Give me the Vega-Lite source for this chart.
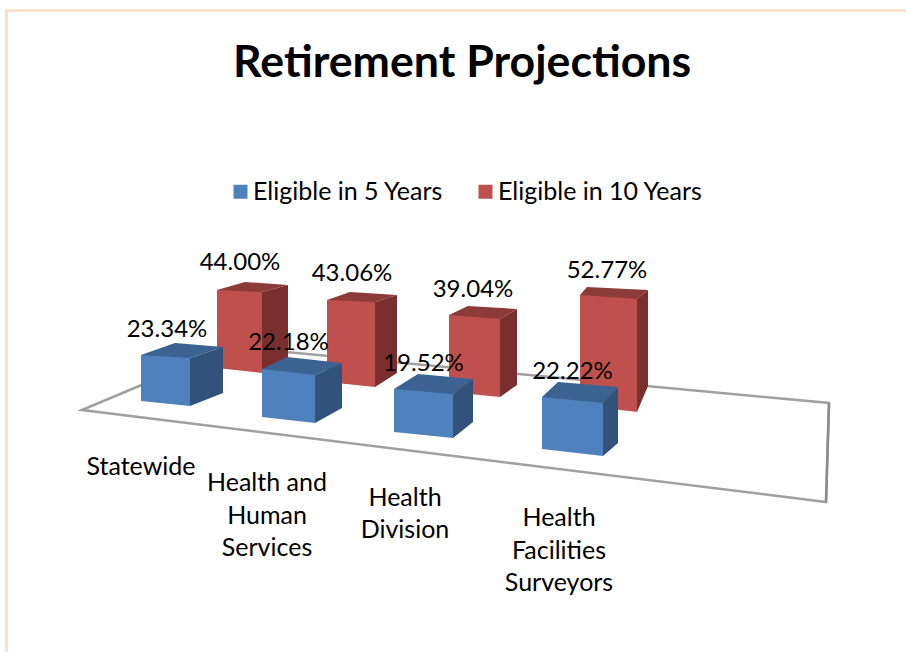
{"$schema":"https://vega.github.io/schema/vega-lite/v6.json","width":906,"height":652,"padding":0,"autosize":{"type":"none"},"background":"#ffffff","view":{"stroke":null},
"title":{"text":"Retirement Projections","font":"Lato","fontWeight":"bold","fontSize":44.7,"color":"#000000","anchor":"start","frame":"group","dx":233,"offset":-122,"baseline":"alphabetic"},
"data":{"values":[
{"category":"Statewide","series":"Eligible in 5 Years","value":0.2334},
{"category":"Statewide","series":"Eligible in 10 Years","value":0.44},
{"category":"Health and Human Services","series":"Eligible in 5 Years","value":0.2218},
{"category":"Health and Human Services","series":"Eligible in 10 Years","value":0.4306},
{"category":"Health Division","series":"Eligible in 5 Years","value":0.1952},
{"category":"Health Division","series":"Eligible in 10 Years","value":0.3904},
{"category":"Health Facilities Surveyors","series":"Eligible in 5 Years","value":0.2222},
{"category":"Health Facilities Surveyors","series":"Eligible in 10 Years","value":0.5277}]},
"resolve":{"scale":{"x":"independent","y":"independent"}},
"layer":[
{"data":{"values":[{"part":"frame and floor"}]},"encoding":{"x":{"datum":0,"type":"quantitative","axis":null,"scale":{"domain":[0,906],"range":[0,906]}},"y":{"datum":0,"type":"quantitative","axis":null,"scale":{"domain":[0,652],"range":[0,652]}}},"layer":[
{"mark":{"type":"point","filled":false,"opacity":1,"size":4,"stroke":"#fde0cc","strokeWidth":3,"shape":"M6.5,652L6.5,10.5L906,10.5"}},
{"mark":{"type":"point","filled":false,"opacity":1,"size":4,"stroke":"#a0a0a0","strokeWidth":2.5,"shape":"M82,410L232,347L829,403L826,502Z"}},
{"mark":{"type":"point","filled":false,"opacity":1,"size":4,"stroke":"#8a8a8a","strokeWidth":2.5,"shape":"M829,403L826,502"}}]},
{"transform":[{"filter":"datum.category==='Statewide'&&datum.series==='Eligible in 10 Years'"}],"encoding":{"x":{"field":"category","type":"nominal","axis":null,"scale":{"type":"band","domain":["Statewide"],"range":[217,262],"padding":0}},"y":{"field":"value","type":"quantitative","stack":null,"axis":null,"scale":{"domain":[0,1],"range":[368,190.7]}}},"layer":[
{"mark":{"type":"bar","color":"#7a2f2e","width":26,"xOffset":35.5,"yOffset":2,"y2Offset":-8},"encoding":{"y2":{"datum":0}}},
{"mark":{"type":"point","filled":true,"opacity":1,"size":4,"color":"#7a2f2e","xOffset":-22.5,"shape":"M45,2L71,-5L71,2Z"}},
{"mark":{"type":"point","filled":true,"opacity":1,"size":4,"color":"#7a2f2e","xOffset":-22.5,"yOffset":78,"shape":"M45,5L45,-8L71,-8Z"}},
{"mark":{"type":"bar"},"encoding":{"y2":{"datum":0},"color":{"field":"series","type":"nominal","scale":{"domain":["Eligible in 5 Years","Eligible in 10 Years"],"range":["#4f81bd","#c0504d"]},"legend":{"title":null,"orient":"none","legendX":228,"legendY":179,"direction":"horizontal","symbolType":"square","symbolSize":196,"labelFont":"Lato","labelFontSize":25,"labelColor":"#000000","labelLimit":400,"labelOffset":0,"columnPadding":29,"padding":0}}}},
{"mark":{"type":"point","filled":true,"opacity":1,"size":4,"color":"#c0504d","xOffset":-22.5,"yOffset":78,"shape":"M0,0L45,0L45,5Z"}},
{"mark":{"type":"point","filled":true,"opacity":1,"size":4,"color":"#8d3b39","xOffset":-22.5,"shape":"M0,0L45,2L71,-5L28,-8Z"}},
{"mark":{"type":"text","font":"Lato","fontSize":24,"color":"#000000","baseline":"middle","dx":0.5,"dy":-27},"encoding":{"text":{"field":"value","type":"quantitative","format":".2%"}}}]},
{"transform":[{"filter":"datum.category==='Health and Human Services'&&datum.series==='Eligible in 10 Years'"}],"encoding":{"x":{"field":"category","type":"nominal","axis":null,"scale":{"type":"band","domain":["Health and Human Services"],"range":[327,375],"padding":0}},"y":{"field":"value","type":"quantitative","stack":null,"axis":null,"scale":{"domain":[0,1],"range":[382,191.6]}}},"layer":[
{"mark":{"type":"bar","color":"#7a2f2e","width":22,"xOffset":35,"yOffset":2,"y2Offset":-9},"encoding":{"y2":{"datum":0}}},
{"mark":{"type":"point","filled":true,"opacity":1,"size":4,"color":"#7a2f2e","xOffset":-24,"shape":"M48,2L70,-5L70,2Z"}},
{"mark":{"type":"point","filled":true,"opacity":1,"size":4,"color":"#7a2f2e","xOffset":-24,"yOffset":82,"shape":"M48,5L48,-9L70,-9Z"}},
{"mark":{"type":"bar"},"encoding":{"y2":{"datum":0},"color":{"field":"series","type":"nominal"}}},
{"mark":{"type":"point","filled":true,"opacity":1,"size":4,"color":"#c0504d","xOffset":-24,"yOffset":82,"shape":"M0,0L48,0L48,5Z"}},
{"mark":{"type":"point","filled":true,"opacity":1,"size":4,"color":"#8d3b39","xOffset":-24,"shape":"M0,0L48,2L70,-5L23,-8Z"}},
{"mark":{"type":"text","font":"Lato","fontSize":24,"color":"#000000","baseline":"middle","dx":1,"dy":-26},"encoding":{"text":{"field":"value","type":"quantitative","format":".2%"}}}]},
{"transform":[{"filter":"datum.category==='Health Division'&&datum.series==='Eligible in 10 Years'"}],"encoding":{"x":{"field":"category","type":"nominal","axis":null,"scale":{"type":"band","domain":["Health Division"],"range":[449,500],"padding":0}},"y":{"field":"value","type":"quantitative","stack":null,"axis":null,"scale":{"domain":[0,1],"range":[392,194.8]}}},"layer":[
{"mark":{"type":"bar","color":"#7a2f2e","width":17,"xOffset":34,"yOffset":4,"y2Offset":-7},"encoding":{"y2":{"datum":0}}},
{"mark":{"type":"point","filled":true,"opacity":1,"size":4,"color":"#7a2f2e","xOffset":-25.5,"shape":"M51,4L68,-6L68,4Z"}},
{"mark":{"type":"point","filled":true,"opacity":1,"size":4,"color":"#7a2f2e","xOffset":-25.5,"yOffset":77,"shape":"M51,5L51,-7L68,-7Z"}},
{"mark":{"type":"bar"},"encoding":{"y2":{"datum":0},"color":{"field":"series","type":"nominal"}}},
{"mark":{"type":"point","filled":true,"opacity":1,"size":4,"color":"#c0504d","xOffset":-25.5,"yOffset":77,"shape":"M0,0L51,0L51,5Z"}},
{"mark":{"type":"point","filled":true,"opacity":1,"size":4,"color":"#8d3b39","xOffset":-25.5,"shape":"M0,0L51,4L68,-6L19,-9Z"}},
{"mark":{"type":"text","font":"Lato","fontSize":24,"color":"#000000","baseline":"middle","dx":-1.5,"dy":-25},"encoding":{"text":{"field":"value","type":"quantitative","format":".2%"}}}]},
{"transform":[{"filter":"datum.category==='Health Facilities Surveyors'&&datum.series==='Eligible in 10 Years'"}],"encoding":{"x":{"field":"category","type":"nominal","axis":null,"scale":{"type":"band","domain":["Health Facilities Surveyors"],"range":[580,637],"padding":0}},"y":{"field":"value","type":"quantitative","stack":null,"axis":null,"scale":{"domain":[0,1],"range":[405,196.5]}}},"layer":[
{"mark":{"type":"bar","color":"#7a2f2e","width":11,"xOffset":34,"yOffset":4,"y2Offset":-19},"encoding":{"y2":{"datum":0}}},
{"mark":{"type":"point","filled":true,"opacity":1,"size":4,"color":"#7a2f2e","xOffset":-28.5,"shape":"M57,4L68,-5L68,4Z"}},
{"mark":{"type":"point","filled":true,"opacity":1,"size":4,"color":"#7a2f2e","xOffset":-28.5,"yOffset":110,"shape":"M57,7L57,-19L68,-19Z"}},
{"mark":{"type":"bar"},"encoding":{"y2":{"datum":0},"color":{"field":"series","type":"nominal"}}},
{"mark":{"type":"point","filled":true,"opacity":1,"size":4,"color":"#c0504d","xOffset":-28.5,"yOffset":110,"shape":"M0,0L57,0L57,7Z"}},
{"mark":{"type":"point","filled":true,"opacity":1,"size":4,"color":"#8d3b39","xOffset":-28.5,"shape":"M0,0L57,4L68,-5L7,-8Z"}},
{"mark":{"type":"text","font":"Lato","fontSize":24,"color":"#000000","baseline":"middle","dx":-1.5,"dy":-24},"encoding":{"text":{"field":"value","type":"quantitative","format":".2%"}}}]},
{"transform":[{"filter":"datum.category==='Statewide'&&datum.series==='Eligible in 5 Years'"}],"encoding":{"x":{"field":"category","type":"nominal","axis":null,"scale":{"type":"band","domain":["Statewide"],"range":[141,190],"padding":0}},"y":{"field":"value","type":"quantitative","stack":null,"axis":null,"scale":{"domain":[0,1],"range":[401,203.9]}}},"layer":[
{"mark":{"type":"bar","color":"#31527a","width":33,"xOffset":41,"yOffset":3,"y2Offset":-8},"encoding":{"y2":{"datum":0}}},
{"mark":{"type":"point","filled":true,"opacity":1,"size":4,"color":"#31527a","xOffset":-24.5,"shape":"M49,3L82,-8L82,3Z"}},
{"mark":{"type":"point","filled":true,"opacity":1,"size":4,"color":"#31527a","xOffset":-24.5,"yOffset":46,"shape":"M49,5L49,-8L82,-8Z"}},
{"mark":{"type":"bar"},"encoding":{"y2":{"datum":0},"color":{"field":"series","type":"nominal"}}},
{"mark":{"type":"point","filled":true,"opacity":1,"size":4,"color":"#4f81bd","xOffset":-24.5,"yOffset":46,"shape":"M0,0L49,0L49,5Z"}},
{"mark":{"type":"point","filled":true,"opacity":1,"size":4,"color":"#3b6290","xOffset":-24.5,"shape":"M0,0L49,3L82,-8L34,-12Z"}},
{"mark":{"type":"text","font":"Lato","fontSize":24,"color":"#000000","baseline":"middle","dx":1.5,"dy":-25},"encoding":{"text":{"field":"value","type":"quantitative","format":".2%"}}},
{"mark":{"type":"text","font":"Lato","fontSize":25,"color":"#000000","baseline":"alphabetic","lineHeight":32.5,"dx":-24.5,"dy":120,"text":"Statewide"}}]},
{"transform":[{"filter":"datum.category==='Health and Human Services'&&datum.series==='Eligible in 5 Years'"}],"encoding":{"x":{"field":"category","type":"nominal","axis":null,"scale":{"type":"band","domain":["Health and Human Services"],"range":[262,315],"padding":0}},"y":{"field":"value","type":"quantitative","stack":null,"axis":null,"scale":{"domain":[0,1],"range":[417,200.6]}}},"layer":[
{"mark":{"type":"bar","color":"#31527a","width":27,"xOffset":40,"yOffset":6,"y2Offset":-9},"encoding":{"y2":{"datum":0}}},
{"mark":{"type":"point","filled":true,"opacity":1,"size":4,"color":"#31527a","xOffset":-26.5,"shape":"M53,6L80,-6L80,6Z"}},
{"mark":{"type":"point","filled":true,"opacity":1,"size":4,"color":"#31527a","xOffset":-26.5,"yOffset":48,"shape":"M53,6L53,-9L80,-9Z"}},
{"mark":{"type":"bar"},"encoding":{"y2":{"datum":0},"color":{"field":"series","type":"nominal"}}},
{"mark":{"type":"point","filled":true,"opacity":1,"size":4,"color":"#4f81bd","xOffset":-26.5,"yOffset":48,"shape":"M0,0L53,0L53,6Z"}},
{"mark":{"type":"point","filled":true,"opacity":1,"size":4,"color":"#3b6290","xOffset":-26.5,"shape":"M0,0L53,6L80,-6L25,-12Z"}},
{"mark":{"type":"text","font":"Lato","fontSize":24,"color":"#000000","baseline":"middle","dx":0,"dy":-26},"encoding":{"text":{"field":"value","type":"quantitative","format":".2%"}}},
{"mark":{"type":"text","font":"Lato","fontSize":25,"color":"#000000","baseline":"alphabetic","lineHeight":32.5,"dx":-21.5,"dy":122,"text":["Health and","Human","Services"]}}]},
{"transform":[{"filter":"datum.category==='Health Division'&&datum.series==='Eligible in 5 Years'"}],"encoding":{"x":{"field":"category","type":"nominal","axis":null,"scale":{"type":"band","domain":["Health Division"],"range":[394,453],"padding":0}},"y":{"field":"value","type":"quantitative","stack":null,"axis":null,"scale":{"domain":[0,1],"range":[432,211.7]}}},"layer":[
{"mark":{"type":"bar","color":"#31527a","width":20,"xOffset":39.5,"yOffset":5,"y2Offset":-10},"encoding":{"y2":{"datum":0}}},
{"mark":{"type":"point","filled":true,"opacity":1,"size":4,"color":"#31527a","xOffset":-29.5,"shape":"M59,5L79,-10L79,5Z"}},
{"mark":{"type":"point","filled":true,"opacity":1,"size":4,"color":"#31527a","xOffset":-29.5,"yOffset":43,"shape":"M59,6L59,-10L79,-10Z"}},
{"mark":{"type":"bar"},"encoding":{"y2":{"datum":0},"color":{"field":"series","type":"nominal"}}},
{"mark":{"type":"point","filled":true,"opacity":1,"size":4,"color":"#4f81bd","xOffset":-29.5,"yOffset":43,"shape":"M0,0L59,0L59,6Z"}},
{"mark":{"type":"point","filled":true,"opacity":1,"size":4,"color":"#3b6290","xOffset":-29.5,"shape":"M0,0L59,5L79,-10L24,-15Z"}},
{"mark":{"type":"text","font":"Lato","fontSize":24,"color":"#000000","baseline":"middle","dx":0,"dy":-25},"encoding":{"text":{"field":"value","type":"quantitative","format":".2%"}}},
{"mark":{"type":"text","font":"Lato","fontSize":25,"color":"#000000","baseline":"alphabetic","lineHeight":32.5,"dx":-18.5,"dy":117,"text":["Health","Division"]}}]},
{"transform":[{"filter":"datum.category==='Health Facilities Surveyors'&&datum.series==='Eligible in 5 Years'"}],"encoding":{"x":{"field":"category","type":"nominal","axis":null,"scale":{"type":"band","domain":["Health Facilities Surveyors"],"range":[542,603],"padding":0}},"y":{"field":"value","type":"quantitative","stack":null,"axis":null,"scale":{"domain":[0,1],"range":[449,215]}}},"layer":[
{"mark":{"type":"bar","color":"#31527a","width":15,"xOffset":38,"yOffset":6,"y2Offset":-6},"encoding":{"y2":{"datum":0}}},
{"mark":{"type":"point","filled":true,"opacity":1,"size":4,"color":"#31527a","xOffset":-30.5,"shape":"M61,6L76,-10L76,6Z"}},
{"mark":{"type":"point","filled":true,"opacity":1,"size":4,"color":"#31527a","xOffset":-30.5,"yOffset":52,"shape":"M61,7L61,-6L76,-6Z"}},
{"mark":{"type":"bar"},"encoding":{"y2":{"datum":0},"color":{"field":"series","type":"nominal"}}},
{"mark":{"type":"point","filled":true,"opacity":1,"size":4,"color":"#4f81bd","xOffset":-30.5,"yOffset":52,"shape":"M0,0L61,0L61,7Z"}},
{"mark":{"type":"point","filled":true,"opacity":1,"size":4,"color":"#3b6290","xOffset":-30.5,"shape":"M0,0L61,6L76,-10L16,-15Z"}},
{"mark":{"type":"text","font":"Lato","fontSize":24,"color":"#000000","baseline":"middle","dx":0,"dy":-25},"encoding":{"text":{"field":"value","type":"quantitative","format":".2%"}}},
{"mark":{"type":"text","font":"Lato","fontSize":25,"color":"#000000","baseline":"alphabetic","lineHeight":32.5,"dx":-13.5,"dy":129,"text":["Health","Facilities","Surveyors"]}}]}
]}
